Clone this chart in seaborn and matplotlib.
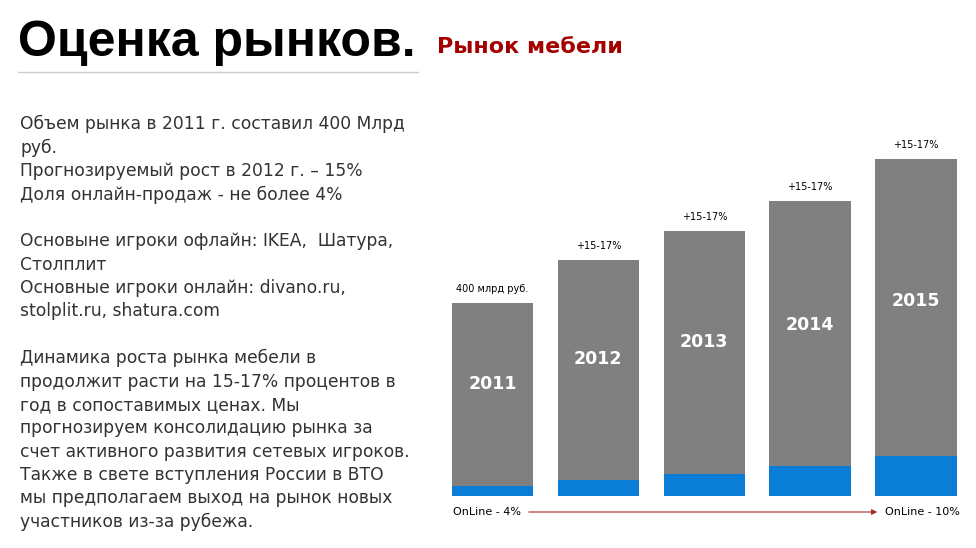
import matplotlib
matplotlib.use("Agg")
import matplotlib.pyplot as plt
import seaborn as sns
import pandas as pd

years = ["2011", "2012", "2013", "2014", "2015"]
total = [193, 236, 265, 295, 337]
online = [10, 16, 22, 30, 40]
top_labels = ["400 млрд руб.", "+15-17%", "+15-17%", "+15-17%", "+15-17%"]

df = pd.DataFrame({"year": years, "total": total, "online": online})

fig = plt.figure(figsize=(9.76, 5.48), dpi=100)
fig.patch.set_facecolor("white")

fig.text(18/976, 1-43/548, "Оценка рынков.", fontsize=36, fontweight="bold",
         family="Liberation Sans", va="center", ha="left", color="black")
fig.text(437/976, 1-47/548, "Рынок мебели", fontsize=16, fontweight="bold",
         family="DejaVu Sans", va="center", ha="left", color="#a50000")
fig.add_artist(plt.Line2D([18/976, 418/976], [1-72/548]*2, color="#cccccc", lw=1))

left_text = ("Объем рынка в 2011 г. составил 400 Млрд\nруб.\nПрогнозируемый рост в 2012 г. – 15%\n"
             "Доля онлайн-продаж - не более 4%\n\nОсновыне игроки офлайн: IKEA,  Шатура,\n"
             "Столплит\nОсновные игроки онлайн: divano.ru,\nstolplit.ru, shatura.com\n\n"
             "Динамика роста рынка мебели в\nпродолжит расти на 15-17% процентов в\n"
             "год в сопоставимых ценах. Мы\nпрогнозируем консолидацию рынка за\n"
             "счет активного развития сетевых игроков.\nТакже в свете вступления России в ВТО\n"
             "мы предполагаем выход на рынок новых\nучастников из-за рубежа.")
fig.text(20/976, 1-115/548, left_text, fontsize=12.3, family="DejaVu Sans",
         va="top", ha="left", color="#333333", linespacing=1.38)

ax = fig.add_axes([439.5/976, 1-496/548, (968-439.5)/976, 356/548])
sns.barplot(data=df, x="year", y="total", color="#808080", saturation=1, width=0.77, ax=ax)
sns.barplot(data=df, x="year", y="online", color="#0a7ed6", saturation=1, width=0.77, ax=ax)
ax.set_xlim(-0.5, 4.49)
ax.set_ylim(0, 356)
ax.axis("off")
for i, (y, t, lab) in enumerate(zip(years, total, top_labels)):
    ax.text(i, t * 0.58, y, ha="center", va="center", color="white",
            fontsize=12.5, fontweight="bold")
    ax.text(i, t + 9, lab, ha="center", va="bottom", fontsize=7, color="black")

fig.text(453/976, 1-512/548, "OnLine - 4%", fontsize=8, va="center", ha="left")
fig.text(885/976, 1-512/548, "OnLine - 10%", fontsize=8, va="center", ha="left")
fig.add_artist(matplotlib.patches.FancyArrowPatch((526/976, 1-512/548), (880/976, 1-512/548),
               transform=fig.transFigure, arrowstyle="-|>", mutation_scale=8,
               color="#a52a2a", lw=0.8))

fig.savefig("out.png", dpi=100)
